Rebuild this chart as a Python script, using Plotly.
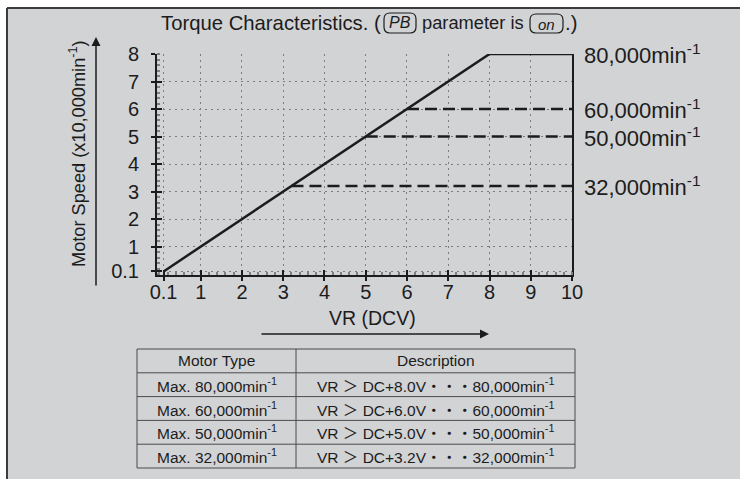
import plotly.graph_objects as go

# ---- data -------------------------------------------------------------
vr_curve = [0.1, 8.0, 10.0]          # VR (DCV)
speed_curve = [0.1, 8.0, 8.0]        # motor speed (x10,000 min-1)

limit_vr = [6.0, 5.0, 3.2]           # VR where the lower speed caps begin
limit_speed = [6.0, 5.0, 3.2]        # capped speed (x10,000 min-1)

label_speed = [8.0, 6.0, 5.0, 3.2]
label_text = ["80,000", "60,000", "50,000", "32,000"]

x_ticks = [0.1, 1, 2, 3, 4, 5, 6, 7, 8, 9, 10]
x_ticktext = ["0.1", "1", "2", "3", "4", "5", "6", "7", "8", "9", "10"]
y_ticks = [0.1, 1, 2, 3, 4, 5, 6, 7, 8]
y_ticktext = ["0.1", "1", "2", "3", "4", "5", "6", "7", "8"]

table_header = ["Motor Type", "Description"]
motor_types = ["Max. 80,000min<sup>-1</sup>", "Max. 60,000min<sup>-1</sup>",
               "Max. 50,000min<sup>-1</sup>", "Max. 32,000min<sup>-1</sup>"]
descriptions = ["VR ＞ DC+8.0V・・・80,000min<sup>-1</sup>",
                "VR ＞ DC+6.0V・・・60,000min<sup>-1</sup>",
                "VR ＞ DC+5.0V・・・50,000min<sup>-1</sup>",
                "VR ＞ DC+3.2V・・・32,000min<sup>-1</sup>"]

# ---- styling ----------------------------------------------------------
W, H = 740, 479
BG = "#d2d3d5"
INK = "#1c1c1c"
FONT = "Liberation Sans, Arial, Noto Sans CJK JP, sans-serif"


def px(x):
    return x / W


def py(y):
    return 1 - y / H


X_DOM = [px(157), px(572)]
Y_DOM = [py(275), py(54)]
X_RANGE = [-0.06, 10]
Y_RANGE = [-0.03, 8]

fig = go.Figure()

# speed characteristic
fig.add_trace(go.Scatter(x=vr_curve, y=speed_curve, mode="lines",
                         line=dict(color=INK, width=2.5),
                         showlegend=False, hoverinfo="skip"))

# capped speeds
for v, s in zip(limit_vr, limit_speed):
    fig.add_trace(go.Scatter(x=[v, X_RANGE[1]], y=[s, s], mode="lines",
                             line=dict(color=INK, width=2.5, dash="12px,6px"),
                             showlegend=False, hoverinfo="skip"))

# carrier for the overlay axes drawing the inner half of the major ticks
fig.add_trace(go.Scatter(x=[None], y=[None], xaxis="x2", yaxis="y2",
                         showlegend=False, hoverinfo="skip"))

axis_common = dict(showline=True, linecolor=INK, linewidth=2,
                   ticks="outside", ticklen=4, tickwidth=1.5, tickcolor=INK,
                   showgrid=True, gridcolor="#7d7d7d", gridwidth=1,
                   griddash="2px,4px", zeroline=False, automargin=False,
                   tickfont=dict(family=FONT, size=20, color=INK))

fig.update_layout(
    template="none",
    width=W, height=H, autosize=False,
    margin=dict(l=0, r=0, t=0, b=0, pad=0, autoexpand=False),
    paper_bgcolor="white", plot_bgcolor=BG, showlegend=False,
    font=dict(family=FONT, color=INK),
    xaxis=dict(domain=X_DOM, range=X_RANGE, tickmode="array",
               tickvals=x_ticks, ticktext=x_ticktext, anchor="y",
               ticklabelstandoff=-6,
               minor=dict(ticks="inside", ticklen=3, tickcolor="#808080",
                          tick0=0, dtick=0.2, showgrid=False),
               **axis_common),
    yaxis=dict(domain=Y_DOM, range=Y_RANGE, tickmode="array",
               tickvals=y_ticks, ticktext=y_ticktext, anchor="x",
               mirror=True, ticklabelstandoff=8,
               minor=dict(ticks="inside", ticklen=3, tickcolor="#808080",
                          tick0=0, dtick=0.2, showgrid=False),
               **axis_common),
    xaxis2=dict(overlaying="x", anchor="y2", range=X_RANGE, side="bottom",
                tickmode="array", tickvals=x_ticks, ticks="inside",
                ticklen=5, tickwidth=1.5, tickcolor=INK, automargin=False,
                showticklabels=False, showgrid=False, showline=False,
                zeroline=False),
    yaxis2=dict(overlaying="y", anchor="x2", range=Y_RANGE, side="left",
                tickmode="array", tickvals=y_ticks, ticks="inside",
                ticklen=5, tickwidth=1.5, tickcolor=INK, automargin=False,
                showticklabels=False, showgrid=False, showline=False,
                zeroline=False),
)

FRAME = "#3c3c3c"
shapes = [
    # panel background and its frame
    dict(type="rect", xref="paper", yref="paper", x0=px(7), x1=px(741),
         y0=py(480), y1=py(8), fillcolor=BG, line=dict(width=0), layer="below"),
    dict(type="line", xref="paper", yref="paper", x0=px(7), x1=px(741),
         y0=py(8), y1=py(8), line=dict(color=FRAME, width=2)),
    dict(type="line", xref="paper", yref="paper", x0=px(7), x1=px(7),
         y0=py(8), y1=py(480), line=dict(color=FRAME, width=2)),
]


def rounded_box(x0, y0, x1, y1, r):
    pts = (f"M {px(x0 + r)},{py(y0)} L {px(x1 - r)},{py(y0)} "
           f"Q {px(x1)},{py(y0)} {px(x1)},{py(y0 + r)} "
           f"L {px(x1)},{py(y1 - r)} Q {px(x1)},{py(y1)} {px(x1 - r)},{py(y1)} "
           f"L {px(x0 + r)},{py(y1)} Q {px(x0)},{py(y1)} {px(x0)},{py(y1 - r)} "
           f"L {px(x0)},{py(y0 + r)} Q {px(x0)},{py(y0)} {px(x0 + r)},{py(y0)} Z")
    return dict(type="path", xref="paper", yref="paper", path=pts,
                line=dict(color=INK, width=1.2))


shapes.append(rounded_box(384, 13, 416, 33, 6))
shapes.append(rounded_box(530, 14, 563, 33, 6))

# table grid
T_LEFT, T_RIGHT, T_MID = 137, 575, 296
T_TOP, T_ROW = 349, 23.8
n_rows = len(motor_types) + 1
T_BOT = T_TOP + n_rows * T_ROW
GRID = dict(color="#4a4a4a", width=1)
shapes.append(dict(type="rect", xref="paper", yref="paper", x0=px(T_LEFT),
                   x1=px(T_RIGHT), y0=py(T_BOT), y1=py(T_TOP), line=GRID))
shapes.append(dict(type="line", xref="paper", yref="paper", x0=px(T_MID),
                   x1=px(T_MID), y0=py(T_BOT), y1=py(T_TOP), line=GRID))
for i in range(1, n_rows):
    yy = T_TOP + i * T_ROW
    shapes.append(dict(type="line", xref="paper", yref="paper", x0=px(T_LEFT),
                       x1=px(T_RIGHT), y0=py(yy), y1=py(yy), line=GRID))
fig.update_layout(shapes=shapes)

ann = []
TFONT = dict(family=FONT, size=20.3, color=INK)
ann.append(dict(text="Torque Characteristics. (", x=px(383), y=py(23),
                xanchor="right", yanchor="middle", font=TFONT))
ann.append(dict(text="<i>PB</i>", x=px(400), y=py(23), xanchor="center",
                yanchor="middle", font=dict(family=FONT, size=16, color=INK)))
ann.append(dict(text="parameter is", x=px(420), y=py(23), xanchor="left",
                yanchor="middle", font=dict(family=FONT, size=18.3, color=INK)))
ann.append(dict(text="<i>on</i>", x=px(546.5), y=py(24), xanchor="center",
                yanchor="middle", font=dict(family=FONT, size=15, color=INK)))
ann.append(dict(text=".)", x=px(563), y=py(23), xanchor="left",
                yanchor="middle", font=TFONT))

# axis titles with direction arrows
ann.append(dict(text="Motor Speed (x10,000min<sup>-1</sup>)", textangle=-90,
                x=px(77), y=py(154), xanchor="center", yanchor="middle",
                font=dict(family=FONT, size=18.2, color=INK)))
ann.append(dict(text="", x=px(96), y=py(37), showarrow=True, ax=0, ay=250,
                arrowhead=2, arrowsize=1.2, arrowwidth=1.5, arrowcolor=INK))
ann.append(dict(text="VR (DCV)", x=px(373), y=py(318), xanchor="center",
                yanchor="middle", font=dict(family=FONT, size=19.5, color=INK)))
ann.append(dict(text="", x=px(489), y=py(334), showarrow=True, ax=-229, ay=0,
                arrowhead=2, arrowsize=1.2, arrowwidth=1.5, arrowcolor=INK))

# speed labels on the right
for s, t in zip(label_speed, label_text):
    ann.append(dict(text=f"{t}min<sup>-1</sup>", x=px(582), xref="paper",
                    y=s, yref="y", xanchor="left", yanchor="middle",
                    font=dict(family=FONT, size=22, color=INK)))

# table text
CFONT = dict(family=FONT, size=15.5, color=INK)
col_centers = [(T_LEFT + T_MID) / 2, (T_MID + T_RIGHT) / 2]
rows = [table_header] + [[m, d] for m, d in zip(motor_types, descriptions)]
for r, row in enumerate(rows):
    yc = T_TOP + (r + 0.5) * T_ROW
    for c, txt in enumerate(row):
        ann.append(dict(text=txt, x=px(col_centers[c]), y=py(yc),
                        xanchor="center", yanchor="middle", font=CFONT))

for a in ann:
    a.setdefault("xref", "paper")
    a.setdefault("yref", "paper")
    a.setdefault("showarrow", False)
fig.update_layout(annotations=ann)

fig.write_html("out.html",
               post_script="document.body.style.margin='0';")
